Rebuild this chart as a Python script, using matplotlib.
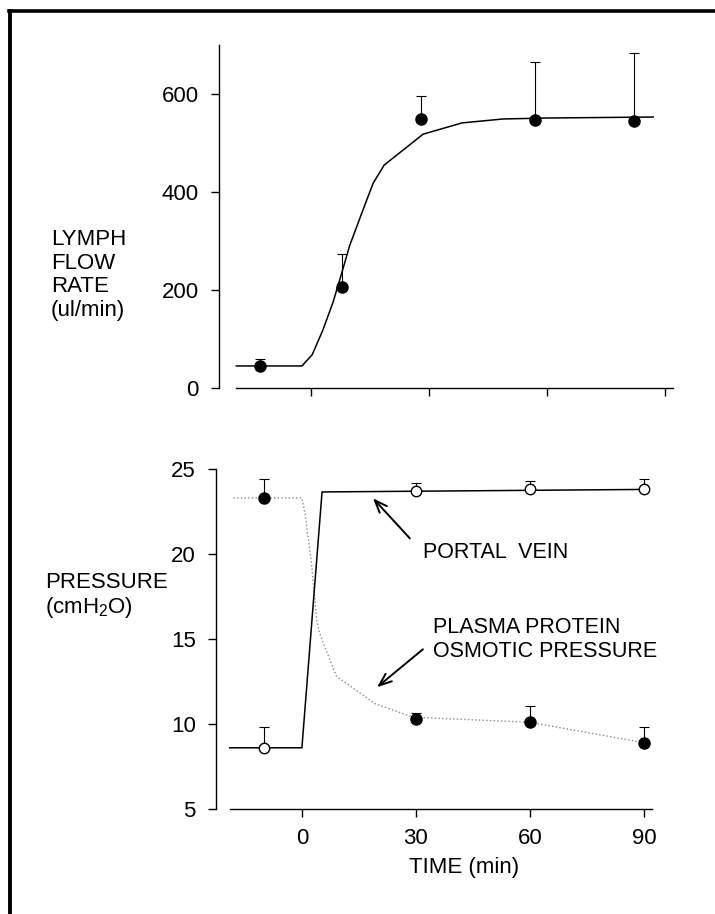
import matplotlib
matplotlib.use("Agg")
import matplotlib.pyplot as plt
from matplotlib.lines import Line2D

plt.rcParams['font.family'] = ['Liberation Sans', 'DejaVu Sans']
plt.rcParams['mathtext.fontset'] = 'custom'
plt.rcParams['mathtext.rm'] = 'Liberation Sans'
plt.rcParams['mathtext.it'] = 'Liberation Sans'

# lymph flow (top panel)
t_flow = [-13, 8, 28, 57, 82]
flow = [45, 206, 549, 547, 545]
flow_err = [14, 67, 47, 118, 139]
t_flow_fit = [-19, -2.3, 0.3, 3, 5.6, 8, 9.8, 13, 15.8, 18.6, 28.5, 38.4, 48.8, 60, 87]
flow_fit = [45, 45, 68, 118, 175, 240, 290, 359, 418, 455, 518, 541, 549, 551, 553]

# pressures (bottom panel)
t_p = [-10, 30, 60, 90]
portal = [8.6, 23.7, 23.8, 23.8]
portal_err = [1.2, 0.5, 0.5, 0.6]
osm = [23.3, 10.3, 10.1, 8.9]
osm_err = [1.1, 0.35, 0.95, 0.9]
t_portal_line = [-19, 0, 5.3, 91]
portal_line = [8.6, 8.6, 23.65, 23.8]
t_osm_line = [-18, 0, 0.8, 2.5, 3.9, 4.7, 9.1, 19.2, 29.2, 60, 90]
osm_line = [23.3, 23.3, 22.4, 19.5, 16.1, 15.3, 12.8, 11.2, 10.4, 10.1, 8.9]

x_ticks = [0, 30, 60, 90]
flow_ticks = [0, 200, 400, 600]
p_ticks = [5, 10, 15, 20, 25]

W, H = 715, 914
fig = plt.figure(figsize=(W / 100, H / 100), dpi=100)


def px(x0, y0, x1, y1):
    # pixel box (top-left origin) -> figure fraction rect
    return [x0 / W, 1 - y1 / H, (x1 - x0) / W, (y1 - y0) / H]


def style(ax):
    for s in ['top', 'right']:
        ax.spines[s].set_visible(False)
    for s in ['left', 'bottom']:
        ax.spines[s].set_linewidth(1.0)
    ax.tick_params(direction='out', length=5.5, width=1, labelsize=16, pad=9)


# top panel
ax1 = fig.add_axes(px(219, 45, 692.5, 388))
ax1.set_xlim(-23.4, 97)
ax1.set_ylim(0, 700)
style(ax1)
ax1.spines['left'].set_bounds(0, 700)
ax1.spines['bottom'].set_bounds(-19, 92)
ax1.set_xticks(x_ticks)
ax1.set_xticklabels([])
ax1.set_yticks(flow_ticks)
ax1.plot(t_flow_fit, flow_fit, color='black', lw=1.1)
ax1.errorbar(t_flow, flow, yerr=[[0] * len(flow_err), flow_err], fmt='none',
             ecolor='black', elinewidth=0.8, capsize=3.5, capthick=0.8)
ax1.plot(t_flow, flow, 'o', color='black', ms=8)

# bottom panel
ax2 = fig.add_axes(px(216, 452, 670.6, 809))
ax2.set_xlim(-22.6, 97)
ax2.set_ylim(5, 26)
style(ax2)
ax2.spines['left'].set_bounds(5, 25)
ax2.spines['bottom'].set_bounds(-19, 92)
ax2.set_xticks(x_ticks)
ax2.set_yticks(p_ticks)
ax2.tick_params(axis='x', pad=8)
ax2.plot(t_osm_line, osm_line, color='#888888', lw=1.0, ls=':')
ax2.plot(t_portal_line, portal_line, color='black', lw=1.1)
ax2.errorbar(t_p, portal, yerr=[[0] * 4, portal_err], fmt='none',
             ecolor='black', elinewidth=0.8, capsize=3.5, capthick=0.8)
ax2.errorbar(t_p, osm, yerr=[[0] * 4, osm_err], fmt='none',
             ecolor='black', elinewidth=0.8, capsize=3.5, capthick=0.8)
# open circles = portal vein, filled = osmotic pressure
ax2.plot(t_p, portal, 'o', mfc='white', mec='black', mew=1, ms=7.5)
ax2.plot(t_p, osm, 'o', color='black', ms=8)

ax2.annotate('', xy=(18.2, 23.4), xytext=(28.9, 20.8),
             arrowprops=dict(arrowstyle='->,head_length=0.9,head_width=0.35',
                             color='black', lw=1.4))
ax2.text(31.8, 20.1, 'PORTAL  VEIN', fontsize=15.5, va='center', ha='left')
ax2.annotate('', xy=(19.2, 12.06), xytext=(32.4, 14.5),
             arrowprops=dict(arrowstyle='->,head_length=0.9,head_width=0.35',
                             color='black', lw=1.4))
ax2.text(34.5, 14.97, 'PLASMA PROTEIN\nOSMOTIC PRESSURE', fontsize=15.5,
         va='center', ha='left', linespacing=1.15)

# axis titles
fig.text(51 / W, 1 - 275 / H, 'LYMPH\nFLOW\nRATE\n(ul/min)', fontsize=16,
         va='center', ha='left', linespacing=1.18)
fig.text(45 / W, 1 - 583 / H, 'PRESSURE', fontsize=16, va='center', ha='left')
fig.text(45 / W, 1 - 608 / H, '(cmH$_2$O)', fontsize=16, va='center', ha='left')
fig.text(464 / W, 1 - 867 / H, 'TIME (min)', fontsize=16, va='center', ha='center')

# frame around the figure (top and left edges visible)
fig.add_artist(Line2D([9 / W, 1], [1 - 11 / H, 1 - 11 / H], color='black', lw=2.6,
                      transform=fig.transFigure))
fig.add_artist(Line2D([9.5 / W, 9.5 / W], [0, 1 - 11 / H], color='black', lw=2.8,
                      transform=fig.transFigure))

fig.savefig('out.png', dpi=100)
